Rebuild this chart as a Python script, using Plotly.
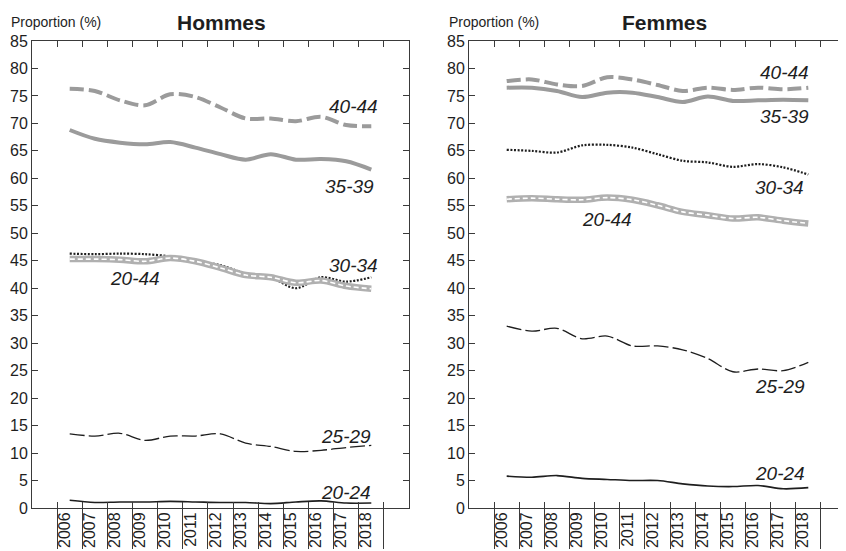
import plotly.graph_objects as go

# ---------------- data ----------------
years = ["2006", "2007", "2008", "2009", "2010", "2011", "2012",
         "2013", "2014", "2015", "2016", "2017", "2018"]

hommes_40_44 = [76.3, 75.9, 74.2, 73.3, 75.3, 74.8, 72.9, 70.9, 70.9, 70.4, 71.2, 69.7, 69.5]
hommes_35_39 = [68.8, 67.2, 66.5, 66.2, 66.6, 65.6, 64.4, 63.4, 64.4, 63.4, 63.5, 63.1, 61.6]
hommes_30_34 = [46.3, 46.2, 46.3, 46.2, 45.8, 45.0, 44.2, 42.7, 42.0, 40.0, 42.0, 41.2, 42.0]
hommes_20_44 = [45.3, 45.3, 45.2, 44.9, 45.5, 44.9, 43.7, 42.4, 42.0, 41.0, 41.4, 40.4, 39.9]
hommes_25_29 = [13.5, 13.1, 13.6, 12.3, 13.1, 13.1, 13.5, 11.8, 11.2, 10.3, 10.5, 11.0, 11.4]
hommes_20_24 = [1.4, 1.0, 1.1, 1.1, 1.2, 1.1, 1.0, 1.0, 0.8, 1.1, 1.3, 0.9, 0.9]

femmes_40_44 = [77.7, 78.0, 77.1, 76.8, 78.4, 78.0, 77.0, 75.9, 76.5, 76.1, 76.5, 76.2, 76.5]
femmes_35_39 = [76.5, 76.5, 75.9, 74.8, 75.6, 75.6, 74.8, 73.9, 74.9, 74.1, 74.2, 74.3, 74.2]
femmes_30_34 = [65.2, 65.0, 64.7, 66.0, 66.1, 65.6, 64.4, 63.2, 62.9, 62.1, 62.6, 62.0, 60.7]
femmes_20_44 = [56.2, 56.4, 56.2, 56.1, 56.5, 56.1, 55.1, 53.9, 53.3, 52.7, 52.9, 52.3, 51.8]
femmes_25_29 = [33.1, 32.2, 32.7, 30.8, 31.3, 29.5, 29.5, 28.8, 27.2, 24.8, 25.3, 25.0, 26.5]
femmes_20_24 = [5.8, 5.6, 5.9, 5.4, 5.2, 5.0, 5.0, 4.4, 4.0, 3.9, 4.1, 3.5, 3.7]

panel_titles = ["Hommes", "Femmes"]
y_title = "Proportion (%)"

# ---------------- styles ----------------
GRAY = "#9b9b9b"
BAND = "#b0b0b0"
INK = "#1e1e1e"
AXC = "#3a3a3a"
FONT = "Liberation Sans, Arial, sans-serif"

# the page body has an 8px margin: figure size shrinks so the picture lines up
OFF = 8
W, H = 846 - OFF, 551 - OFF


def px(xr):
    return (xr - OFF) / W


def py(yr):
    return 1 - (yr - OFF) / H


fig = go.Figure()


def add_panel(xa, ya, s4044, s3539, s3034, s2044, s2529, s2024):
    common = dict(x=years, xaxis=xa, yaxis=ya, mode="lines", showlegend=False,
                  hoverinfo="skip")
    sp = dict(shape="spline", smoothing=0.9)
    fig.add_trace(go.Scatter(y=s2529, line=dict(color=INK, width=1.3, dash="15px,4px", **sp), **common))
    fig.add_trace(go.Scatter(y=s2024, line=dict(color=INK, width=1.6, **sp), **common))
    fig.add_trace(go.Scatter(y=s3034, line=dict(color=INK, width=2.2, dash="2px,1.6px", **sp), **common))
    fig.add_trace(go.Scatter(y=s2044, line=dict(color=BAND, width=6.5, **sp), **common))
    fig.add_trace(go.Scatter(y=s2044, line=dict(color="white", width=1.6, dash="5px,3px", **sp), **common))
    fig.add_trace(go.Scatter(y=s3539, line=dict(color=GRAY, width=4, **sp), **common))
    fig.add_trace(go.Scatter(y=s4044, line=dict(color=GRAY, width=4, dash="14px,5px", **sp), **common))


add_panel("x", "y", hommes_40_44, hommes_35_39, hommes_30_34, hommes_20_44, hommes_25_29, hommes_20_24)
add_panel("x2", "y2", femmes_40_44, femmes_35_39, femmes_30_34, femmes_20_44, femmes_25_29, femmes_20_24)

# empty traces to hold the separator axes
fig.add_trace(go.Scatter(x=[], y=[], xaxis="x3", yaxis="y", showlegend=False))
fig.add_trace(go.Scatter(x=[], y=[], xaxis="x4", yaxis="y2", showlegend=False))

n = len(years)
xrange_ = [-1.5, n + 0.5]
bounds = [i - 0.5 for i in range(n + 1)]

dom_y = [py(508), py(41)]
dom_l = [px(32), px(409)]
dom_r = [px(469), 1.0]

xcommon = dict(type="category", categoryorder="array", categoryarray=years,
               range=xrange_, tickson="boundaries", ticks="inside", ticklen=6,
               tickcolor=AXC, showline=True, linecolor=AXC, linewidth=1,
               mirror="ticks", tickangle=-90, showgrid=False, zeroline=False,
               tickfont=dict(size=16, color=INK, family=FONT),
               ticklabelshift=-5, ticklabelstandoff=-3,
               automargin=False, fixedrange=True)
ycommon = dict(range=[0, 85], dtick=5, tick0=0, ticks="inside", ticklen=6,
               tickcolor=AXC, showline=True, linecolor=AXC, linewidth=1,
               mirror="ticks", showgrid=False, zeroline=False,
               tickfont=dict(size=16, color=INK, family=FONT),
               automargin=False, fixedrange=True)
sepcommon = dict(type="linear", range=xrange_, tickmode="array", tickvals=bounds,
                 ticks="outside", ticklen=40, tickcolor=AXC, showticklabels=False,
                 showline=False, showgrid=False, zeroline=False,
                 automargin=False, fixedrange=True)

fig.update_layout(
    template="none",
    width=W, height=H,
    margin=dict(l=0, r=0, t=0, b=0, autoexpand=False),
    paper_bgcolor="white", plot_bgcolor="white",
    font=dict(family=FONT, color=INK),
    xaxis=dict(domain=dom_l, anchor="y", **xcommon),
    yaxis=dict(domain=dom_y, anchor="x", **ycommon),
    xaxis2=dict(domain=dom_r, anchor="y2", **xcommon),
    yaxis2=dict(domain=dom_y, anchor="x2", **ycommon),
    xaxis3=dict(overlaying="x", anchor="y", **sepcommon),
    xaxis4=dict(overlaying="x2", anchor="y2", **sepcommon),
)

# titles
for xc, t in [(221, panel_titles[0]), (664, panel_titles[1])]:
    fig.add_annotation(x=px(xc), y=py(22), xref="paper", yref="paper",
                       text="<b>" + t + "</b>", showarrow=False,
                       font=dict(size=21, color=INK, family=FONT),
                       xanchor="center", yanchor="middle")
for xl in [9, 447]:
    fig.add_annotation(x=px(xl), y=py(22), xref="paper", yref="paper",
                       text=y_title, showarrow=False,
                       font=dict(size=14, color=INK, family=FONT),
                       xanchor="left", yanchor="middle")

# series labels
lab_font = dict(size=19, color=INK, family=FONT)
hommes_labels = [("40-44", 12.35, 73.0, "right"), ("35-39", 12.2, 58.6, "right"),
                 ("30-34", 12.35, 44.2, "right"), ("20-44", 2.6, 41.7, "center"),
                 ("25-29", 12.05, 13.1, "right"), ("20-24", 12.05, 2.9, "right")]
femmes_labels = [("40-44", 12.1, 79.2, "right"), ("35-39", 12.1, 71.2, "right"),
                 ("30-34", 11.9, 58.4, "right"), ("20-44", 4.0, 52.6, "center"),
                 ("25-29", 11.95, 22.2, "right"), ("20-24", 11.95, 6.2, "right")]
for (txt, xv, yv, anc) in hommes_labels:
    fig.add_annotation(x=xv, y=yv, xref="x", yref="y", text="<i>" + txt + "</i>",
                       showarrow=False, font=lab_font, xanchor=anc, yanchor="middle")
for (txt, xv, yv, anc) in femmes_labels:
    fig.add_annotation(x=xv, y=yv, xref="x2", yref="y2", text="<i>" + txt + "</i>",
                       showarrow=False, font=lab_font, xanchor=anc, yanchor="middle")

fig.write_html("out.html")
